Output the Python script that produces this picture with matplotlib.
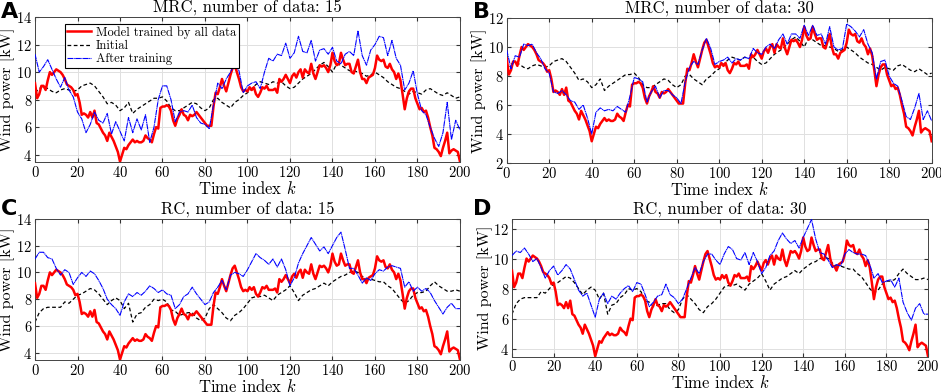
import matplotlib
matplotlib.use("Agg")
import matplotlib.pyplot as plt
import numpy as np

# time index
k_full = np.arange(0, 201)
k_half = np.arange(0, 201, 2)

# model trained by all data (same in all panels)
trained_all = [9.2, 8.1, 8.4, 9.0, 9.0, 8.7, 9.4, 10.0, 9.8, 10.0,
               10.2, 10.1, 10.0, 9.8, 9.5, 9.1, 9.0, 8.9, 8.7, 8.3,
               8.4, 7.8, 6.9, 7.0, 6.9, 6.7, 7.1, 6.7, 7.2, 6.3,
               6.2, 5.9, 5.6, 5.4, 5.0, 5.6, 5.3, 5.0, 4.6, 4.2,
               3.5, 4.0, 4.5, 4.4, 4.7, 4.9, 5.1, 4.9, 5.0, 4.9,
               4.9, 5.0, 5.4, 5.2, 5.1, 4.9, 5.5, 6.0, 5.9, 7.4,
               7.5, 7.5, 7.6, 7.5, 7.2, 6.5, 6.1, 6.6, 6.9, 7.3,
               6.9, 6.8, 6.5, 6.9, 6.8, 6.9, 7.1, 6.9, 6.7, 6.5,
               6.3, 6.1, 6.1, 6.1, 7.5, 8.5, 8.4, 8.9, 9.5, 9.0,
               8.6, 9.2, 9.8, 10.3, 10.5, 10.0, 9.5, 8.9, 8.6, 8.7,
               8.6, 8.9, 8.7, 8.9, 8.4, 8.2, 8.5, 8.9, 8.8, 9.0,
               8.7, 8.7, 8.7, 8.8, 8.5, 9.5, 9.3, 9.5, 9.8, 9.5,
               9.2, 9.7, 9.9, 9.6, 10.0, 10.2, 9.6, 10.2, 10.0, 9.9,
               10.6, 9.9, 9.5, 10.0, 10.5, 10.4, 10.5, 10.3, 10.0, 10.5,
               11.4, 10.8, 10.5, 10.6, 11.4, 10.9, 10.5, 10.6, 10.6, 10.0,
               9.9, 10.4, 10.9, 10.0, 9.5, 9.5, 9.2, 9.6, 9.7, 9.8,
               10.3, 11.2, 10.9, 10.8, 10.9, 10.4, 10.3, 10.6, 10.2, 10.0,
               9.5, 9.9, 9.4, 8.4, 7.3, 8.1, 8.6, 8.8, 8.8, 8.1,
               7.7, 7.3, 7.4, 7.1, 7.2, 6.7, 6.0, 5.4, 4.5, 4.4,
               4.2, 3.9, 4.5, 5.0, 5.6, 4.1, 4.3, 4.4, 4.3, 4.2,
               3.5]

# initial models (every 2nd index)
initial_mrc = [8.5, 8.8, 9.0, 8.8, 8.6, 8.5, 8.7, 8.8, 8.7, 8.6,
               8.7, 9.0, 9.1, 9.2, 9.0, 8.6, 8.2, 7.7, 7.8, 7.6,
               7.2, 7.4, 7.8, 7.0, 7.3, 7.5, 7.7, 7.9, 8.1, 8.1,
               8.2, 7.9, 7.4, 7.2, 7.2, 7.4, 7.6, 7.8, 7.7, 7.4,
               7.2, 7.4, 8.0, 8.1, 7.8, 7.6, 7.4, 7.8, 8.0, 8.3,
               8.5, 8.8, 9.1, 9.3, 9.2, 9.1, 9.3, 9.2, 9.3, 9.0,
               8.8, 8.9, 9.2, 9.5, 9.7, 9.9, 10.2, 10.5, 10.7, 10.4,
               10.0, 10.6, 10.5, 10.3, 10.1, 10.1, 10.0, 9.9, 9.7, 9.8,
               10.0, 9.8, 9.6, 9.3, 9.1, 8.9, 8.8, 8.6, 8.4, 8.6,
               8.5, 8.4, 8.7, 8.8, 8.6, 8.4, 8.3, 8.5, 8.3, 8.1,
               8.2]

initial_rc = [6.3, 7.0, 7.3, 7.4, 7.4, 7.4, 7.4, 7.8, 7.7, 8.0,
              8.3, 8.4, 8.6, 8.8, 8.7, 8.4, 8.0, 7.6, 7.9, 8.1,
              7.9, 7.3, 7.7, 6.3, 6.9, 7.0, 7.4, 7.6, 8.0, 7.9,
              8.0, 7.8, 7.2, 7.1, 6.8, 6.9, 7.0, 7.0, 6.6, 6.4,
              6.6, 7.3, 7.6, 7.3, 7.0, 6.6, 6.4, 6.8, 7.0, 7.3,
              7.7, 8.1, 8.2, 8.2, 8.3, 8.1, 7.9, 8.3, 8.5, 8.7,
              9.0, 8.5, 7.9, 8.3, 8.5, 8.7, 8.8, 9.0, 9.2, 9.0,
              9.3, 9.5, 9.7, 9.8, 10.0, 10.1, 10.0, 9.7, 9.5, 9.5,
              9.4, 9.3, 9.3, 9.0, 8.8, 8.4, 8.0, 7.7, 7.9, 8.3,
              8.5, 8.5, 8.6, 9.0, 9.3, 9.0, 8.8, 8.6, 8.6, 8.7,
              8.6]

# after training (every 2nd index)
after_mrc15 = [11.3, 10.0, 10.4, 10.9, 10.2, 9.5, 8.9, 9.6, 8.7, 8.2,
               7.1, 6.6, 5.6, 6.2, 7.1, 6.5, 6.3, 7.0, 5.5, 6.4,
               5.7, 5.0, 6.7, 5.6, 6.6, 5.8, 6.9, 4.9, 6.0, 8.0,
               9.0, 9.0, 8.0, 6.4, 7.1, 7.2, 7.1, 7.6, 6.7, 6.3,
               6.2, 5.9, 7.6, 9.2, 8.8, 9.5, 10.0, 10.6, 10.1, 8.5,
               9.0, 9.2, 9.3, 8.8, 10.0, 11.0, 10.8, 11.3, 11.2, 12.1,
               11.0, 11.4, 12.6, 11.5, 11.4, 12.3, 10.8, 11.6, 11.7, 11.3,
               11.8, 10.8, 10.6, 11.3, 11.5, 11.2, 13.0, 11.2, 10.5, 11.6,
               12.0, 12.6, 12.5, 11.2, 12.3, 11.0, 10.5, 8.7, 9.2, 10.1,
               8.4, 7.2, 6.9, 6.0, 5.2, 4.6, 5.6, 7.8, 5.1, 6.5,
               5.8]

after_mrc30 = [9.8, 8.5, 9.4, 9.3, 10.2, 10.1, 10.2, 9.6, 9.2, 8.5,
               8.2, 6.9, 6.8, 7.0, 6.7, 6.3, 6.2, 5.7, 6.0, 5.1,
               4.0, 5.5, 5.8, 5.6, 5.7, 5.6, 5.9, 5.7, 5.5, 6.6,
               7.9, 7.8, 7.6, 6.2, 6.9, 7.3, 6.5, 7.0, 7.0, 6.7,
               6.5, 6.1, 7.6, 8.6, 9.0, 8.8, 9.8, 10.6, 9.9, 8.8,
               9.0, 9.1, 9.3, 8.9, 9.2, 9.1, 9.3, 9.2, 9.9, 9.6,
               9.5, 10.0, 10.2, 9.9, 10.5, 10.9, 10.2, 10.9, 10.9, 10.6,
               11.5, 10.8, 11.5, 10.8, 10.9, 10.2, 11.4, 10.0, 9.8, 9.9,
               11.6, 11.4, 11.1, 10.7, 11.2, 10.2, 9.6, 7.8, 9.0, 9.1,
               8.0, 7.5, 7.3, 6.3, 5.2, 5.0, 5.8, 6.8, 5.0, 5.6,
               4.9]

after_rc15 = [11.0, 11.5, 11.5, 11.1, 11.0, 10.3, 9.8, 10.2, 10.0, 9.1,
              9.6, 10.0, 9.7, 10.1, 9.9, 9.4, 8.8, 8.0, 7.6, 7.3,
              6.8, 7.8, 8.4, 8.2, 8.5, 8.3, 8.6, 9.0, 8.8, 8.5,
              8.7, 8.4, 8.3, 7.3, 7.6, 8.2, 8.4, 8.9, 8.4, 8.0,
              7.6, 7.8, 8.5, 8.9, 9.4, 8.7, 9.8, 10.0, 9.9, 9.7,
              10.2, 10.8, 11.4, 11.1, 10.9, 10.6, 11.0, 10.4, 11.0, 10.2,
              9.0, 9.6, 10.7, 11.4, 12.0, 12.6, 12.1, 11.6, 11.9, 11.4,
              12.0, 12.6, 13.0, 11.7, 10.3, 10.3, 9.8, 9.2, 9.6, 9.4,
              9.9, 10.2, 10.1, 10.4, 10.5, 10.4, 10.3, 8.9, 9.3, 8.6,
              8.9, 8.6, 8.8, 8.5, 7.9, 7.4, 6.9, 7.4, 7.7, 7.3,
              7.3]

after_rc30 = [10.2, 10.5, 10.4, 10.7, 10.3, 9.8, 10.0, 9.4, 8.7, 9.2,
              9.5, 8.9, 9.2, 9.6, 9.3, 8.6, 7.9, 7.5, 7.7, 6.9,
              6.1, 7.3, 7.7, 7.0, 7.5, 7.3, 7.7, 8.0, 8.2, 7.8,
              8.4, 8.3, 7.6, 6.8, 7.1, 7.5, 7.6, 8.3, 7.6, 7.4,
              7.0, 7.3, 8.0, 8.7, 9.4, 9.0, 9.8, 10.3, 10.3, 9.9,
              9.6, 10.3, 10.8, 10.6, 10.0, 9.9, 10.4, 9.6, 10.4, 9.8,
              9.0, 9.4, 10.2, 10.5, 11.2, 11.7, 11.3, 11.0, 11.2, 10.7,
              11.4, 12.0, 12.6, 11.3, 10.4, 10.3, 9.9, 9.4, 9.6, 9.5,
              10.3, 10.6, 10.4, 10.3, 10.3, 10.2, 9.6, 8.7, 9.0, 8.4,
              8.5, 8.6, 8.1, 8.7, 7.1, 6.4, 5.9, 6.7, 7.0, 6.3,
              6.3]

titles = ["MRC, number of data: 15", "MRC, number of data: 30",
          "RC, number of data: 15", "RC, number of data: 30"]
letters = ["A", "B", "C", "D"]

plt.rcParams['font.family'] = ['cmr10', 'DejaVu Serif']
plt.rcParams['mathtext.fontset'] = 'cm'
plt.rcParams['axes.formatter.use_mathtext'] = True

fig = plt.figure(figsize=(9.41, 3.92), dpi=100)

# axes boxes in figure fractions [left, bottom, width, height]
boxes = [[0.0372, 0.5867, 0.4516, 0.3699],
         [0.5385, 0.5842, 0.4516, 0.3698],
         [0.0372, 0.0816, 0.4516, 0.3604],
         [0.5441, 0.0901, 0.4421, 0.3519]]
ylims = [(3.47, 14), (2, 12), (3.47, 14), (3.47, 12.65)]
yticks = [[4, 6, 8, 10, 12, 14], [2, 4, 6, 8, 10, 12],
          [4, 6, 8, 10, 12, 14], [4, 6, 8, 10, 12]]
initials = [initial_mrc, initial_mrc, initial_rc, initial_rc]
afters = [after_mrc15, after_mrc30, after_rc15, after_rc30]
letter_pos = [(0.001, 0.995), (0.503, 0.995), (0.001, 0.492), (0.503, 0.492)]

for i in range(4):
    ax = fig.add_axes(boxes[i])
    ax.plot(k_full, trained_all, color='#ff0000', lw=1.8, label='Model trained by all data', zorder=3)
    ax.plot(k_half, initials[i], color='black', lw=0.9, ls=(0, (3, 2)), label='Initial', zorder=2)
    ax.plot(k_half, afters[i], color='#0000ff', lw=0.8, ls=(0, (5, 0.5, 1, 0.5)), label='After training', zorder=4)
    ax.set_xlim(0, 200)
    ax.set_ylim(*ylims[i])
    ax.set_xticks(np.arange(0, 201, 20))
    ax.set_yticks(yticks[i])
    ax.grid(True, color='#e0e0e0', lw=0.7)
    ax.set_axisbelow(True)
    ax.tick_params(direction='in', top=True, right=True, labelsize=10.5, length=3,
                   color='#333333', pad=2)
    for s in ax.spines.values():
        s.set_color('#444444')
        s.set_linewidth(0.7)
    ax.set_title(titles[i], fontsize=12, pad=3)
    ax.set_xlabel('Time index $k$', fontsize=12, labelpad=0)
    ax.set_ylabel('Wind power [kW]', fontsize=11.5)
    ax.yaxis.set_label_coords(-0.0465, 0.5)
    if i == 0:
        leg = ax.legend(loc='upper left', bbox_to_anchor=(0.07, 0.955), fontsize=9,
                        handlelength=1.9, borderpad=0.2, labelspacing=0.1,
                        handletextpad=0.4, fancybox=False, framealpha=1,
                        edgecolor='black', borderaxespad=0)
        leg.get_frame().set_linewidth(0.8)
    fig.text(letter_pos[i][0], letter_pos[i][1], letters[i], fontsize=16,
             fontweight='bold', family='DejaVu Sans', ha='left', va='top')

fig.savefig('out.png', dpi=100)
